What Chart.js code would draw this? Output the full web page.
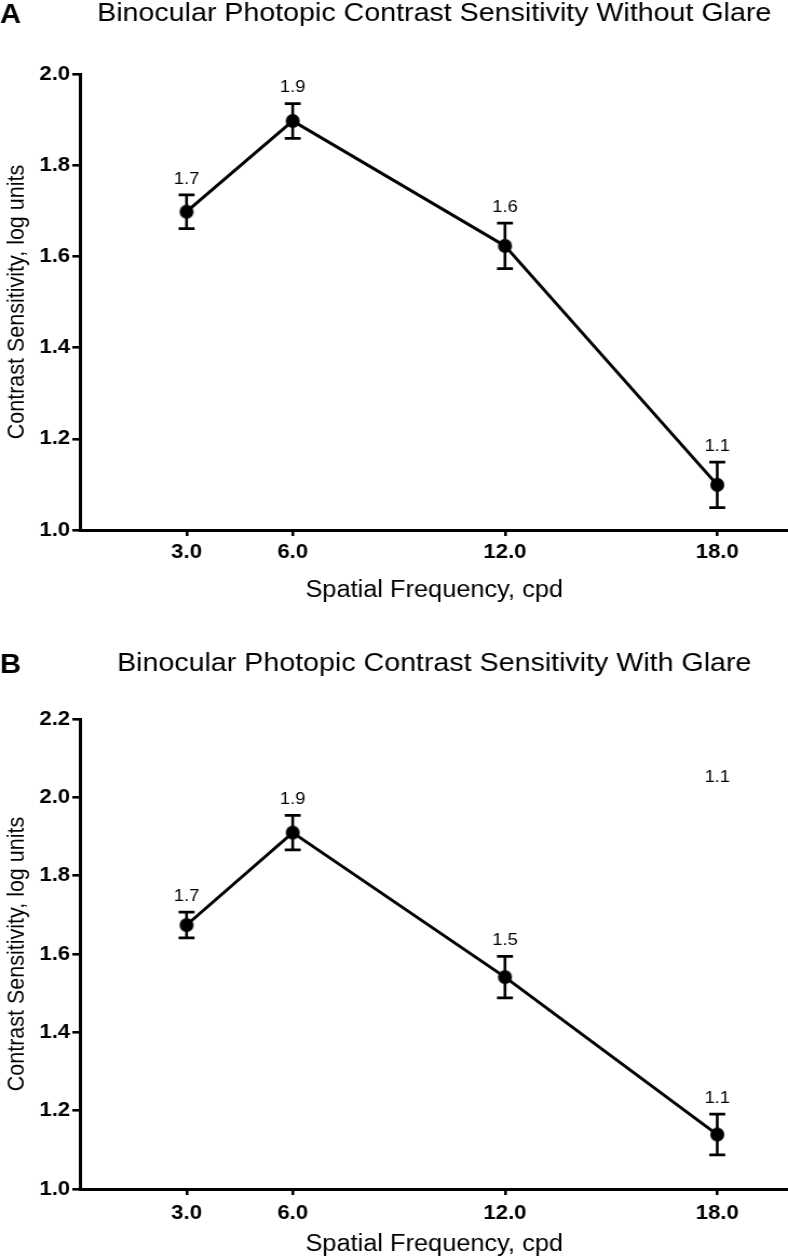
<!DOCTYPE html>
<html><head><meta charset="utf-8">
<script src="https://cdn.jsdelivr.net/npm/chart.js@4.4.1/dist/chart.umd.min.js"></script>
<style>
html,body{margin:0;padding:0;background:#fff;}
.wrap{position:absolute;left:0;width:730px;transform:scaleX(1.079452);transform-origin:0 0;}
#wa{top:0;height:630px;}
#wb{top:630px;height:629px;}
</style></head><body>
<div class="wrap" id="wa"><canvas id="ca"></canvas></div>
<div class="wrap" id="wb"><canvas id="cb"></canvas></div>
<script>
// ---- data ----
const frequencies = [3, 6, 12, 18];
const xTickValues = [3, 6, 12, 18];
const meansA = [1.698, 1.897, 1.623, 1.099];
const errorsA = [0.037, 0.038, 0.05, 0.05];
const labelsA = ['1.7', '1.9', '1.6', '1.1'];
const meansB = [1.674, 1.910, 1.541, 1.139];
const errorsB = [0.033, 0.044, 0.053, 0.052];
const labelsB = ['1.7', '1.9', '1.5', '1.1'];
const strayLabelsB = [{x: 18, y: 2.052, text: '1.1'}];
const yTicksA = {min: 1.0, max: 2.0, step: 0.2};
const yTicksB = {min: 1.0, max: 2.2, step: 0.2};
const titleA = 'Binocular Photopic Contrast Sensitivity Without Glare';
const titleB = 'Binocular Photopic Contrast Sensitivity With Glare';
const xTitle = 'Spatial Frequency, cpd';
const yTitle = 'Contrast Sensitivity, log units';

// ---- styling ----
const S = 788 / 730;
const FONT = "'Liberation Sans', Arial, Helvetica, sans-serif";
function markerImage(r) {
  const c = document.createElement('canvas');
  const w = Math.ceil(2 * r / S) + 2, h = Math.ceil(2 * r) + 2;
  c.width = w; c.height = h;
  const g = c.getContext('2d');
  g.fillStyle = '#000';
  g.beginPath(); g.ellipse(w / 2, h / 2, r / S, r, 0, 0, Math.PI * 2); g.fill();
  return c;
}
const marker = markerImage(7);

const errPlugin = {
  id: 'errbars',
  afterDatasetsDraw(chart, args, opts) {
    const ctx = chart.ctx, xs = chart.scales.x, ys = chart.scales.y;
    const cap = 7.4;
    chart.data.datasets.forEach(ds => {
      ds.data.forEach((p, i) => {
        const e = ds.errors[i];
        const x = xs.getPixelForValue(p.x);
        const yt = ys.getPixelForValue(p.y + e), yb = ys.getPixelForValue(p.y - e);
        ctx.save();
        ctx.strokeStyle = '#000';
        ctx.lineWidth = 2.6;
        ctx.beginPath(); ctx.moveTo(x, yt); ctx.lineTo(x, yb); ctx.stroke();
        ctx.lineWidth = 2.8;
        ctx.beginPath();
        ctx.moveTo(x - cap, yt); ctx.lineTo(x + cap, yt);
        ctx.moveTo(x - cap, yb); ctx.lineTo(x + cap, yb);
        ctx.stroke();
        ctx.fillStyle = '#000';
        ctx.font = '17px ' + FONT;
        ctx.textAlign = 'center'; ctx.textBaseline = 'middle';
        ctx.fillText(ds.valueLabels[i], x, yt - 16);
        ctx.restore();
      });
    });
    (opts.extra || []).forEach(l => {
      ctx.save();
      ctx.fillStyle = '#000';
      ctx.font = '17px ' + FONT;
      ctx.textAlign = 'center'; ctx.textBaseline = 'middle';
      ctx.fillText(l.text, xs.getPixelForValue(l.x), ys.getPixelForValue(l.y));
      ctx.restore();
    });
  },
  afterDraw(chart, args, opts) {
    const ctx = chart.ctx;
    ctx.save();
    ctx.fillStyle = '#000';
    ctx.font = 'bold 27px ' + FONT;
    ctx.textAlign = 'left'; ctx.textBaseline = 'alphabetic';
    ctx.fillText(opts.letter, 0, opts.letterY);
    ctx.restore();
  }
};

function makeChart(id, cfg) {
  return new Chart(document.getElementById(id), {
    type: 'line',
    data: {
      datasets: [{
        data: frequencies.map((f, i) => ({x: f, y: cfg.means[i]})),
        errors: cfg.errors,
        valueLabels: cfg.labels,
        borderColor: '#000',
        borderWidth: 3,
        tension: 0,
        pointStyle: marker,
        pointRadius: 7,
        clip: false
      }]
    },
    plugins: [errPlugin],
    options: {
      responsive: true,
      maintainAspectRatio: false,
      animation: false,
      layout: {autoPadding: false, padding: {left: 0, right: 0, top: 0, bottom: 0}},
      plugins: {
        legend: {display: false},
        tooltip: {enabled: false},
        title: {
          display: true, text: cfg.title, fullSize: false, color: '#000',
          font: {family: FONT, size: 26.5, weight: 'normal', lineHeight: 1},
          padding: cfg.titlePad
        },
        errbars: {extra: cfg.extra || [], letter: cfg.letter, letterY: cfg.letterY}
      },
      scales: {
        x: {
          type: 'linear', min: 0, max: 20,
          afterBuildTicks: s => { s.ticks = xTickValues.map(v => ({value: v})); },
          afterFit: s => { s.height = cfg.xAxisHeight; s.paddingLeft = 0; s.paddingRight = 0; },
          ticks: {
            color: '#000', padding: cfg.xTickPad, maxRotation: 0, autoSkip: false,
            font: {family: FONT, size: 20.5, weight: 'bold'},
            callback: v => Number(v).toFixed(1)
          },
          grid: {drawOnChartArea: false, drawTicks: true, tickLength: 6, color: '#000', lineWidth: 2.6},
          border: {display: true, color: '#000', width: 3},
          title: {display: true, text: xTitle, color: '#000',
            font: {family: FONT, size: 23.5, weight: 'normal', lineHeight: 1.2}, padding: {top: 0, bottom: cfg.xTitlePad}}
        },
        y: {
          type: 'linear', min: cfg.yTicks.min, max: cfg.yTicks.max,
          afterFit: s => { s.width = 74.5; },
          ticks: {
            stepSize: cfg.yTicks.step, color: '#000', padding: 2,
            font: {family: FONT, size: 20.5, weight: 'bold'},
            callback: v => Number(v).toFixed(1)
          },
          grid: {drawOnChartArea: false, drawTicks: true, tickLength: 7.5, color: '#000', lineWidth: 2.6},
          border: {display: true, color: '#000', width: 3},
          title: {display: true, text: yTitle, color: '#000',
            font: {family: FONT, size: 21.5, weight: 'normal', lineHeight: 1.2}, padding: {top: 2.7, bottom: 0}}
        }
      }
    }
  });
}

makeChart('ca', {
  means: meansA, errors: errorsA, labels: labelsA, yTicks: yTicksA,
  title: titleA, titlePad: {top: 0, bottom: 47.5},
  xAxisHeight: 100, xTickPad: 4.5, xTitlePad: 25, letter: 'A', letterY: 23.3
});
makeChart('cb', {
  means: meansB, errors: errorsB, labels: labelsB, yTicks: yTicksB,
  title: titleB, titlePad: {top: 20.5, bottom: 42}, extra: strayLabelsB,
  xAxisHeight: 70, xTickPad: 6, xTitlePad: 0, letter: 'B', letterY: 43
});
</script>
</body></html>
